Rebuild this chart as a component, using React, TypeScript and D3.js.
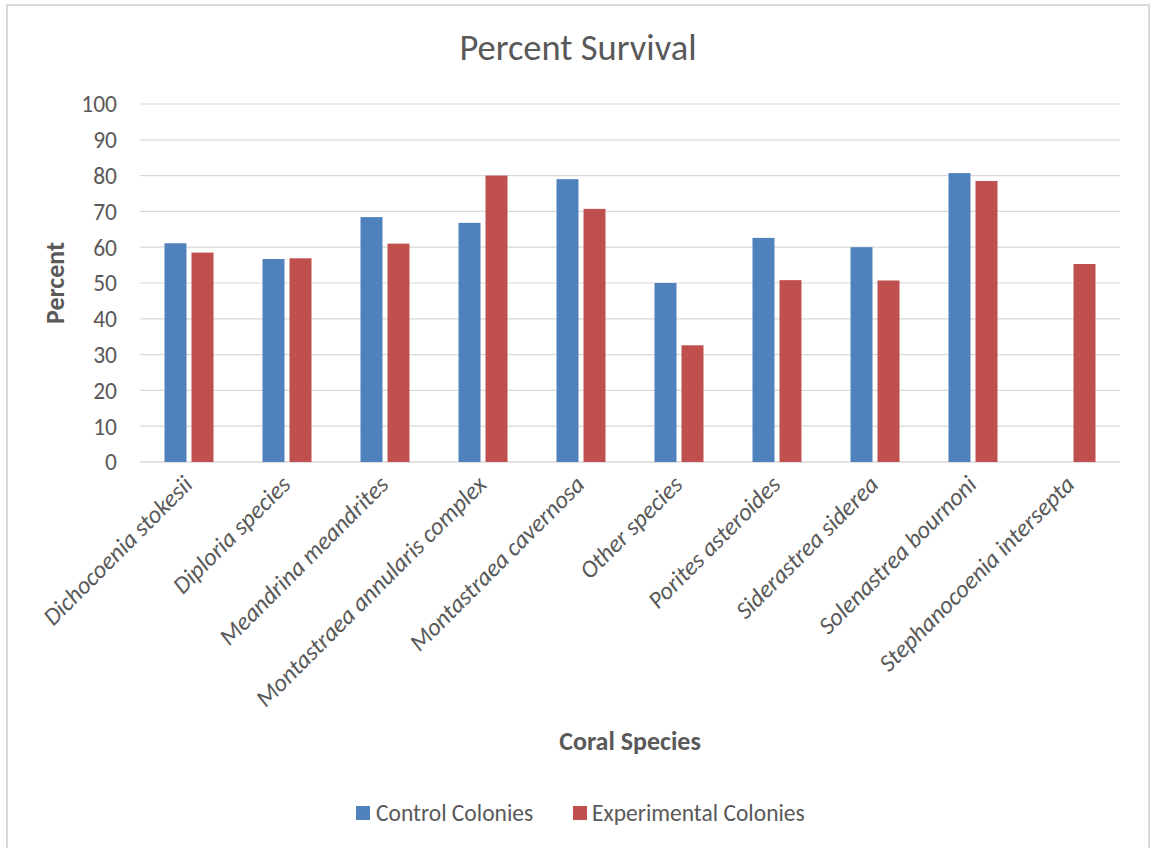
import React from 'react'
import * as d3 from 'd3'

const species = [
    'Dichocoenia stokesii',
    'Diploria species',
    'Meandrina meandrites',
    'Montastraea annularis complex',
    'Montastraea cavernosa',
    'Other species',
    'Porites asteroides',
    'Siderastrea siderea',
    'Solenastrea bournoni',
    'Stephanocoenia intersepta',
]
const controlValues = [61.1, 56.7, 68.4, 66.8, 79.0, 50.0, 62.6, 60.0, 80.7, 0]
const experimentalValues = [58.5, 56.9, 61.0, 80.0, 70.7, 32.6, 50.8, 50.7, 78.5, 55.3]
const seriesNames = ['Control Colonies', 'Experimental Colonies']
const seriesColors = ['#4F81BD', '#C0504D']
const yTicks = [0, 10, 20, 30, 40, 50, 60, 70, 80, 90, 100]

const width = 1151
const height = 848
const font = "Calibri, Carlito, Lato, sans-serif"
const textColor = '#595959'

const App = () => {
    const plot = { left: 140, right: 1120, top: 104, bottom: 462 }

    const x = d3.scaleBand<string>()
        .domain(species)
        .range([plot.left, plot.right])
        .paddingInner(0)
        .paddingOuter(0)

    const y = d3.scaleLinear()
        .domain([0, 100])
        .range([plot.bottom, plot.top])

    const barWidth = 22
    const barGap = 5
    const series = [controlValues, experimentalValues]

    return (
        <svg width={width} height={height} style={{ position: 'absolute', left: 0, top: 0 }}>
            <rect x={7} y={5} width={1142} height={870} fill="white" stroke="#D9D9D9" strokeWidth={2} />
            <text x={578} y={60} textAnchor="middle" fontFamily={font} fontSize={36.5} fill={textColor}>Percent Survival</text>

            {yTicks.map(t => (
                <g key={`tick-${t}`}>
                    <line x1={plot.left} x2={plot.right} y1={y(t)} y2={y(t)} stroke="#D9D9D9" strokeWidth={t === 0 ? 1.5 : 1.2} />
                    <text x={117} y={y(t)} dy="0.36em" textAnchor="end" fontFamily={font} fontSize={23.5} fill={textColor}>{t}</text>
                </g>
            ))}

            {species.map((s, i) => {
                const center = x(s)! + x.bandwidth() / 2
                return (
                    <g key={`cat-${i}`}>
                        {series.map((vals, k) => {
                            const v = vals[i]
                            if (!v) return null
                            const bx = center - barWidth - barGap / 2 + k * (barWidth + barGap)
                            return <rect key={`bar-${i}-${k}`} x={bx} y={y(v)} width={barWidth} height={y(0) - y(v)} fill={seriesColors[k]} />
                        })}
                        <text
                            transform={`translate(${center + 5}, ${486}) rotate(-45)`}
                            textAnchor="end"
                            fontFamily={font}
                            fontStyle="italic"
                            fontSize={24.5}
                            fill={textColor}
                        >{s}</text>
                    </g>
                )
            })}

            <text transform={`translate(64, ${(plot.top + plot.bottom) / 2}) rotate(-90)`} textAnchor="middle" fontFamily={font} fontWeight="bold" fontSize={26} fill={textColor}>Percent</text>
            <text x={(plot.left + plot.right) / 2} y={750} textAnchor="middle" fontFamily={font} fontWeight="bold" fontSize={26} fill={textColor}>Coral Species</text>

            <rect x={356} y={806} width={14} height={14} fill={seriesColors[0]} />
            <text x={376} y={821} fontFamily={font} fontSize={23.5} fill={textColor}>{seriesNames[0]}</text>
            <rect x={573} y={806} width={14} height={14} fill={seriesColors[1]} />
            <text x={592} y={821} fontFamily={font} fontSize={23.5} fill={textColor}>{seriesNames[1]}</text>
        </svg>
    )
}

export default App
